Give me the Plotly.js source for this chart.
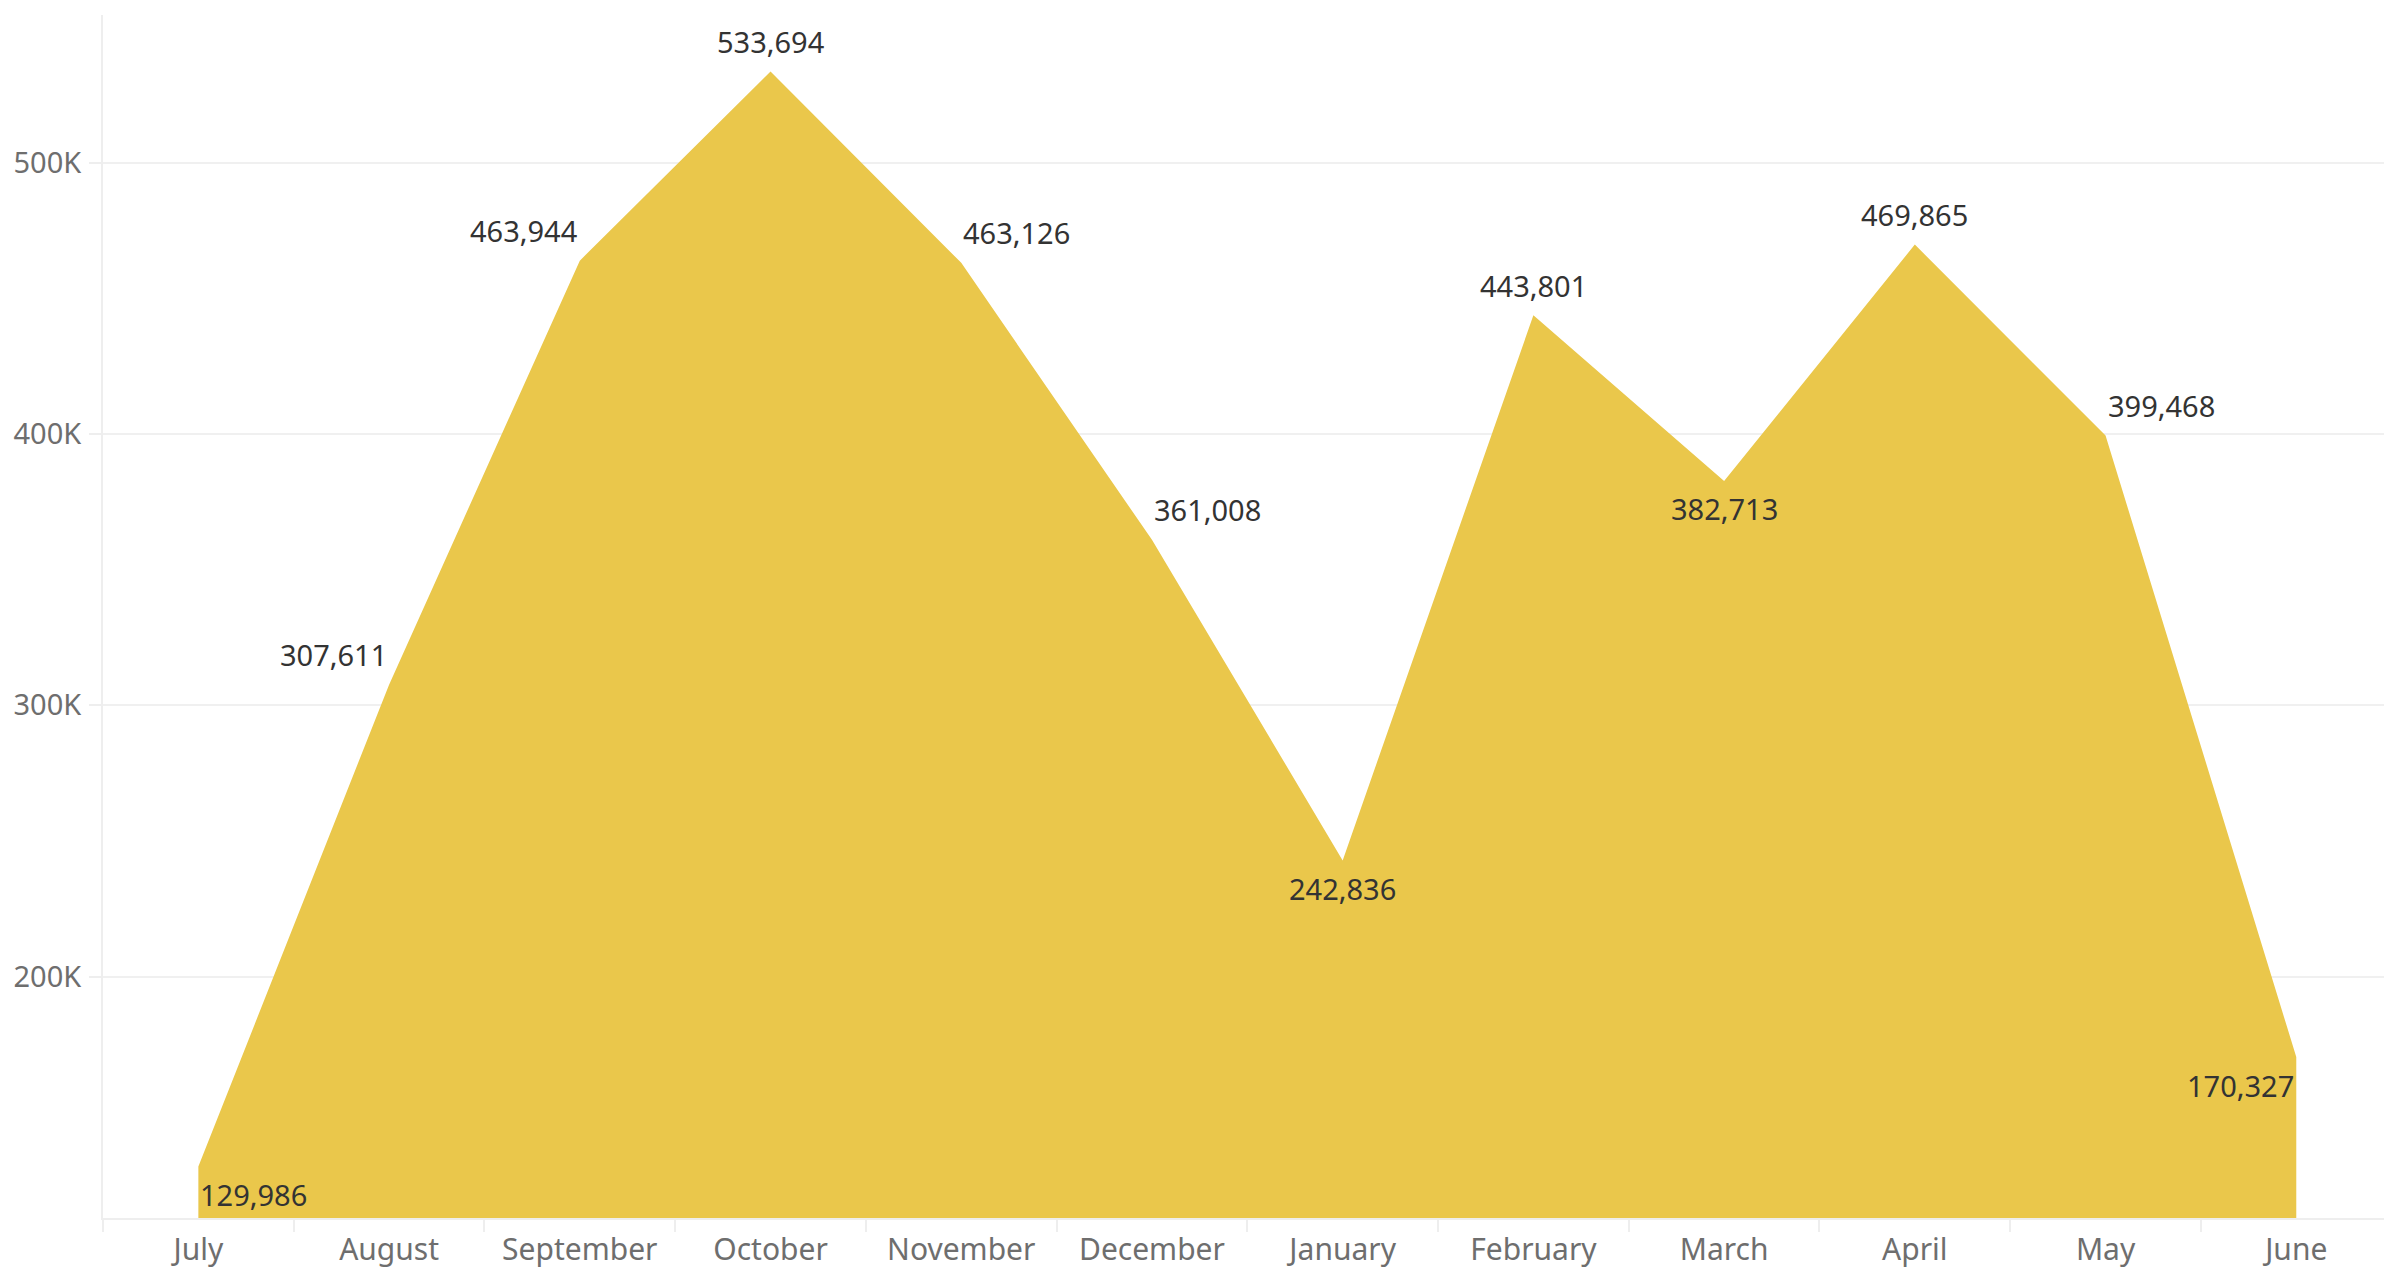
<!DOCTYPE html>
<html>
<head>
<meta charset="utf-8">
<script src="https://cdn.plot.ly/plotly-3.0.1.min.js"></script>
<style>
html,body{margin:0;padding:0;background:#fff;}
#chart{width:2384px;height:1271px;}
</style>
</head>
<body>
<div id="chart"></div>
<script>
const months = ["July","August","September","October","November","December","January","February","March","April","May","June"];
const values = [129986, 307611, 463944, 533694, 463126, 361008, 242836, 443801, 382713, 469865, 399468, 170327];
const labelPositions = ["bottom right","top left","top left","top center","top right","top right","bottom center","top center","bottom center","top center","top right","bottom left"];
const yTickVals = [200000, 300000, 400000, 500000];
const yTickText = ["200K", "300K", "400K", "500K"];

const labels = values.map(v => v.toLocaleString("en-US"));

const trace = {
  x: months,
  y: values,
  type: "scatter",
  mode: "lines",
  fill: "tozeroy",
  fillcolor: "#EAC74B",
  line: {width: 0, color: "#EAC74B"},
  hoverinfo: "skip"
};

const annotations = months.map((m, i) => {
  const pos = labelPositions[i].split(" ");
  const vert = pos[0];
  const horiz = pos[1];
  return {
    x: m,
    y: values[i],
    xref: "x",
    yref: "y",
    text: labels[i],
    showarrow: false,
    xanchor: horiz === "left" ? "right" : (horiz === "right" ? "left" : "center"),
    yanchor: "middle",
    yshift: vert === "top" ? 30 : -28,
    xshift: 0,
    font: {family: "Noto Sans, sans-serif", size: 29, color: "#333333"}
  };
});

const layout = {
  width: 2384,
  height: 1271,
  margin: {l: 103, r: 0, t: 15, b: 53},
  paper_bgcolor: "#ffffff",
  plot_bgcolor: "#ffffff",
  showlegend: false,
  annotations: annotations,
  xaxis: {
    type: "category",
    range: [-0.5, 11.46],
    tickson: "boundaries",
    ticks: "outside",
    ticklen: 12,
    tickwidth: 2,
    tickcolor: "#eeeeee",
    showgrid: false,
    showline: true,
    linecolor: "#eeeeee",
    linewidth: 2,
    ticklabelstandoff: 4,
    tickfont: {family: "Noto Sans, sans-serif", size: 30, color: "#6e6e6e"},
    zeroline: false,
    fixedrange: true
  },
  yaxis: {
    range: [111000, 554500],
    tickvals: yTickVals,
    ticktext: yTickText,
    ticks: "outside",
    ticklen: 12,
    tickwidth: 2,
    tickcolor: "#eeeeee",
    showgrid: true,
    gridcolor: "#f0f0f0",
    gridwidth: 2,
    showline: true,
    linecolor: "#eeeeee",
    linewidth: 2,
    zeroline: false,
    ticklabelstandoff: 2,
    tickfont: {family: "Noto Sans, sans-serif", size: 29, color: "#6e6e6e"},
    fixedrange: true
  }
};

Plotly.newPlot("chart", [trace], layout, {displayModeBar: false, staticPlot: true});
</script>
</body>
</html>
